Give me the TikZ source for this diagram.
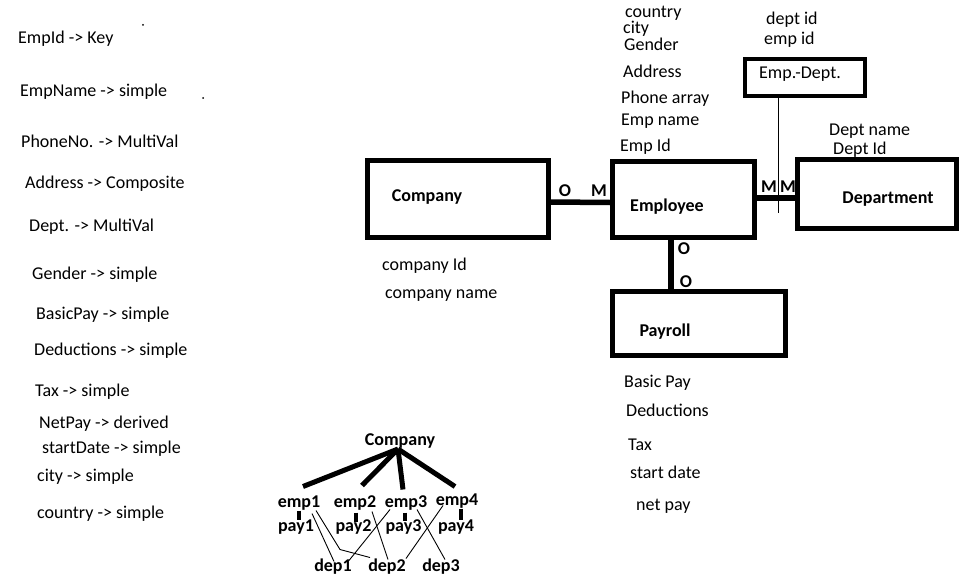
\documentclass[tikz,border=0pt]{standalone}
\usepackage{fontspec}
\setmainfont{Carlito}
\usetikzlibrary{calc}
\begin{document}
\begin{tikzpicture}[x=1pt,y=-1pt,
  txt/.style={inner sep=0pt, anchor=west, yshift=-1.5pt, font=\fontsize{18}{20}\selectfont},
  btxt/.style={inner sep=0pt, yshift=-1.5pt, font=\fontsize{18}{20}\selectfont\bfseries},
  entity/.style={draw, line width=5pt, inner sep=0pt},
  rel/.style={line width=5.5pt},
  tree/.style={line width=5pt},
  paylink/.style={line width=4.5pt},
  thin/.style={line width=0.9pt}]
\useasboundingbox[fill=white] (0,0) rectangle (963,580);

% stray dots
\fill (143,25) circle (1pt);
\fill (203,98) circle (1pt);

% left column
\node[txt] (l1) at (18,37) {EmpId -> Key};
\node[txt] (l2) at (20,90) {EmpName -> simple};
\node[txt] (l3) at (21,140) {PhoneNo. -> MultiVal};
\node[txt] (l4) at (25,182) {Address -> Composite};
\node[txt] (l5) at (29,225) {Dept. -> MultiVal};
\node[txt] (l6) at (32,273) {Gender -> simple};
\node[txt] (l7) at (36,313) {BasicPay -> simple};
\node[txt] (l8) at (34,349) {Deductions -> simple};
\node[txt] (l9) at (35,390) {Tax -> simple};
\node[txt] (l10) at (39,422) {NetPay -> derived};
\node[txt] (l11) at (42,447) {startDate -> simple};
\node[txt] (l12) at (37,475) {city -> simple};
\node[txt] (l13) at (37,512) {country -> simple};

% entities
\node[entity, minimum width=181pt, minimum height=76pt] (company) at (457.5,199) {};
\node[entity, minimum width=142pt, minimum height=75pt] (employee) at (683,199.5) {};
\node[entity, minimum width=159pt, minimum height=69.5pt] (department) at (876.5,194) {};
\node[entity, line width=4pt, minimum width=120pt, minimum height=37pt] (empdept) at (805,77.5) {};
\node[entity, minimum width=173pt, minimum height=64pt] (payroll) at (698.5,323) {};

\node[btxt] (companyl) at (427,196) {Company};
\node[btxt] (employeel) at (667,205) {Employee};
\node[btxt] (departmentl) at (888,198) {Department};
\node[btxt] (payrolll) at (665,330) {Payroll};
\node[txt] (empdeptl) at (759,73) {Emp.-Dept.};

% relationships
\draw[rel, line cap=round] ([yshift=-3pt]company.east) -- ([yshift=-3pt]employee.west);
\draw[rel] ([yshift=1.5pt]employee.east) -- ([yshift=1.5pt]employee.east -| department.west);
\draw[line width=6pt] ([xshift=-12pt]employee.south) -- ([xshift=-12pt]employee.south |- payroll.north);
\coordinate (edend) at (778,213);
\draw[line width=1pt] ([xshift=-27pt]empdept.south) -- (edend);

% cardinalities
\node[btxt] (c1) at (565,189) {O};
\node[btxt] (c2) at (599,189) {M};
\node[btxt] (c3) at (769,185) {M};
\node[btxt] (c4) at (788,185) {M};
\node[btxt] (c5) at (684,247) {O};
\node[btxt] (c6) at (686,280) {O};

% attributes
\node[txt] (a1) at (625,11.5) {country};
\node[txt] (a2) at (623,27) {city};
\node[txt] (a3) at (624,43) {Gender};
\node[txt] (a4) at (623,70) {Address};
\node[txt] (a5) at (621,97) {Phone array};
\node[txt] (a6) at (621,120) {Emp name};
\node[txt] (a7) at (620,145) {Emp Id};
\node[txt] (a8) at (766,18) {dept id};
\node[txt] (a9) at (764,38) {emp id};
\node[txt] (a10) at (829,130) {Dept name};
\node[txt] (a11) at (833,148) {Dept Id};
\node[txt] (a12) at (382,264) {company Id};
\node[txt] (a13) at (385,294) {company name};
\node[txt] (a14) at (624,381) {Basic Pay};
\node[txt] (a15) at (626,409) {Deductions};
\node[txt] (a16) at (628,443) {Tax};
\node[txt] (a17) at (630,471) {start date};
\node[txt] (a18) at (636,505) {net pay};

% tree
\node[btxt] (tc) at (400,440) {Company};
\node[btxt] (emp1) at (299,502) {emp1};
\node[btxt] (emp2) at (355,502) {emp2};
\node[btxt] (emp3) at (406,502) {emp3};
\node[btxt] (emp4) at (457,500) {emp4};
\node[btxt] (pay1) at (296,526) {pay1};
\node[btxt] (pay2) at (353.5,526) {pay2};
\node[btxt] (pay3) at (403.5,526) {pay3};
\node[btxt] (pay4) at (456,526) {pay4};
\node[btxt] (dep1) at (333,565) {dep1};
\node[btxt] (dep2) at (387,565) {dep2};
\node[btxt] (dep3) at (441,565) {dep3};

\draw[tree] ([xshift=-2pt]tc.south) -- ($(emp1)+(4,-17)$);
\draw[tree] ([xshift=-2pt]tc.south) -- ($(emp2)+(7,-18)$);
\draw[tree] ([xshift=-2pt]tc.south) -- ($(emp3)+(-3,-14)$);
\draw[tree] ([xshift=-2pt]tc.south) -- ($(emp4)+(-2,-15)$);

\draw[paylink] ($(emp1)+(0,7)$) -- ($(emp1 |- pay1)+(0,-8)$);
\draw[paylink] ($(emp2)+(1,9)$) -- ($(emp2 |- pay2)+(1,-6)$);
\draw[paylink] ($(emp3)+(-1,9)$) -- ($(emp3 |- pay3)+(-1,-7)$);
\draw[paylink] ($(emp4)+(4,7)$) -- ($(emp4 |- pay4)+(4,-8)$);

\draw[thin] ($(emp1)+(13,10)$) -- ($(dep1)+(1,-5)$);
\draw[thin] ($(emp1)+(17,7)$) -- ($(dep2)+(-47,-17)$) -- ($(dep2)+(-17,-9)$);
\draw[thin] ($(emp2)+(17,8)$) -- ($(dep2)+(1,-7)$);
\draw[thin] ($(emp3)+(-16,6)$) -- ($(dep1)+(16,-6)$);
\draw[thin] ($(emp4)+(-14,4)$) -- ($(dep2)+(19,-8)$);
\draw[thin] ($(emp3)+(11,6)$) -- ($(dep3)+(4,-7)$);
\end{tikzpicture}
\end{document}
